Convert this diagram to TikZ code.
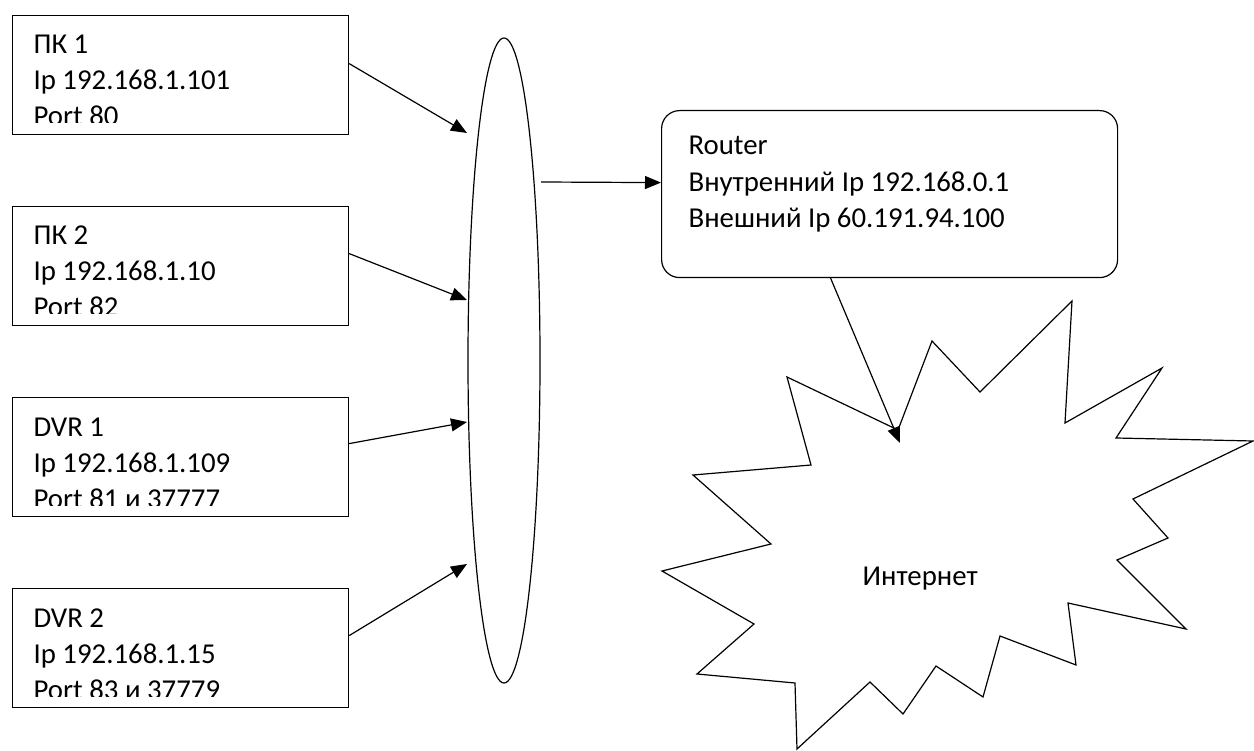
\documentclass[tikz,border=0pt]{standalone}
\usepackage{fontspec}
\setmainfont{Carlito}
\usetikzlibrary{arrows.meta,shapes.geometric}
\begin{document}
\begin{tikzpicture}[x=1pt,y=-1pt,
  line width=1.2pt,
  devbox/.style={draw, rectangle, inner sep=0pt, minimum width=336pt, minimum height=119pt, anchor=north west},
  rbox/.style={draw, rectangle, rounded corners=18pt, inner sep=0pt, minimum width=456pt, minimum height=167pt, anchor=north west},
  hubshape/.style={draw, ellipse, inner sep=0pt, minimum width=72pt, minimum height=645pt},
  txt/.style={inner sep=0pt, anchor=base west, font=\fontsize{28.8pt}{35pt}\selectfont},
  arr/.style={-{Triangle[length=16pt,width=13pt]}},
  burst/.style={draw, line join=miter},
]
\useasboundingbox (0,0) rectangle (1254,751);

% device boxes
\node[devbox] (pc1) at (12,15) {};
\node[devbox] (pc2) at (12,206) {};
\node[devbox] (dvr1) at (12,397) {};
\node[devbox] (dvr2) at (12,588) {};

\begin{scope}
\clip (12,15) rectangle (348,123);
\node[txt] (pc1a) at (33,54) {ПК 1};
\node[txt] (pc1b) at (33,90) {Ip 192.168.1.101};
\node[txt] (pc1c) at (33,126) {Port 80};
\end{scope}
\begin{scope}
\clip (12,206) rectangle (348,314);
\node[txt] (pc2a) at (33,245) {ПК 2};
\node[txt] (pc2b) at (33,281) {Ip 192.168.1.10};
\node[txt] (pc2c) at (33,317) {Port 82};
\end{scope}
\begin{scope}
\clip (12,397) rectangle (348,505);
\node[txt] (dvr1a) at (33,436) {DVR 1};
\node[txt] (dvr1b) at (33,472) {Ip 192.168.1.109};
\node[txt] (dvr1c) at (33,508) {Port 81 и 37777};
\end{scope}
\begin{scope}
\clip (12,588) rectangle (348,696);
\node[txt] (dvr2a) at (33,627) {DVR 2};
\node[txt] (dvr2b) at (33,663) {Ip 192.168.1.15};
\node[txt] (dvr2c) at (33,699) {Port 83 и 37779};
\end{scope}

% hub ellipse
\node[hubshape] (hub) at (504,360.5) {};

% router
\node[rbox] (router) at (661,110) {};
\node[txt] (ra) at (688,155) {Router};
\node[txt] (rb) at (688,192) {Внутренний Ip 192.168.0.1};
\node[txt] (rc) at (688,228) {Внешний Ip 60.191.94.100};

% internet burst
\draw[burst] (787,377) -- (898,430) -- (932,341) -- (980,392) -- (1072,301) -- (1065,423)
  -- (1162,368) -- (1116,438) -- (1253,441) -- (1133,499) -- (1168,538) -- (1117,560)
  -- (1186,629) -- (1068,603) -- (1076,665) -- (1000,636) -- (983,697) -- (936,666)
  -- (903,714) -- (870,682) -- (797,749) -- (795,683) -- (697,674) -- (754,624)
  -- (662,571) -- (771,544) -- (693,475) -- (811,465) -- cycle;
\node[txt] (inet) at (862,585) {Интернет};

% connector end points
\coordinate (h1) at (467,133);
\coordinate (h2) at (467,300);
\coordinate (h3) at (467,422);
\coordinate (h4) at (467,564);
\coordinate (hout) at (541,182);
\coordinate (inetin) at (900,443);

\draw[arr] ([yshift=11.5pt]pc1.east) -- (h1);
\draw[arr] ([yshift=12.5pt]pc2.east) -- (h2);
\draw[arr] ([yshift=13.5pt]dvr1.east) -- (h3);
\draw[arr] ([yshift=12.5pt]dvr2.east) -- (h4);
\draw[arr] (hout) -- ([yshift=11.5pt]router.west);
\draw[arr] ([xshift=-59pt]router.south) -- (inetin);
\end{tikzpicture}
\end{document}
